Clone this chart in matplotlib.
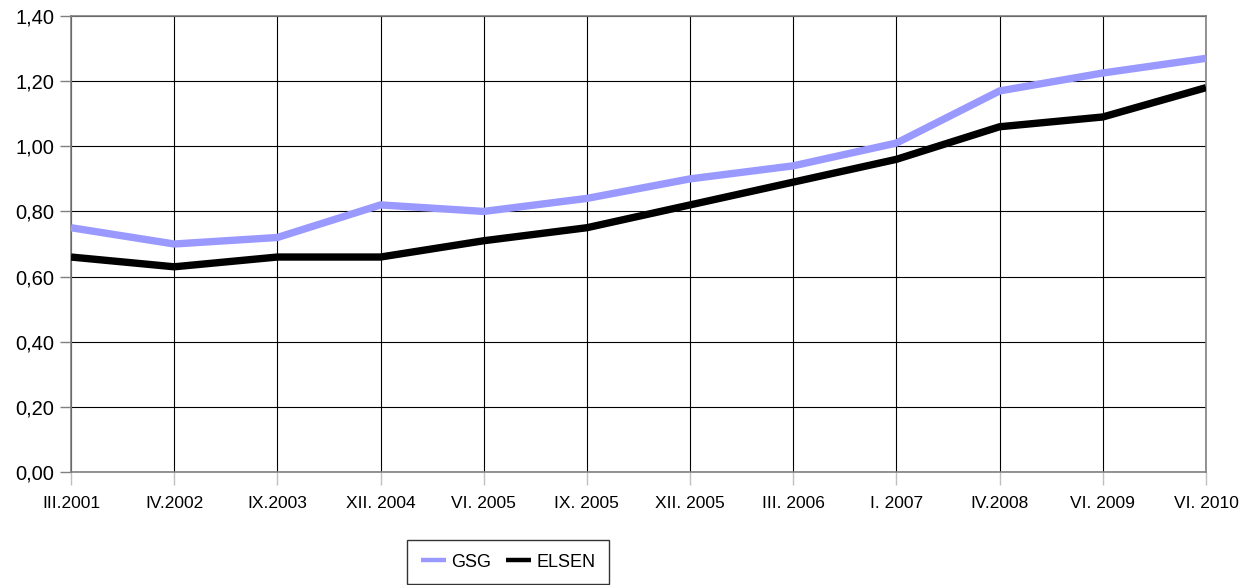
import matplotlib
matplotlib.use("Agg")
import matplotlib.pyplot as plt
from matplotlib.ticker import FuncFormatter

plt.rcParams['font.family'] = ['Liberation Sans', 'DejaVu Sans']

categories = ["III.2001", "IV.2002", "IX.2003", "XII. 2004", "VI. 2005", "IX. 2005",
              "XII. 2005", "III. 2006", "I. 2007", "IV.2008", "VI. 2009", "VI. 2010"]
gsg = [0.75, 0.70, 0.72, 0.82, 0.80, 0.84, 0.90, 0.94, 1.01, 1.17, 1.225, 1.27]
elsen = [0.66, 0.63, 0.66, 0.66, 0.71, 0.75, 0.82, 0.89, 0.96, 1.06, 1.09, 1.18]

fig = plt.figure(figsize=(12.5, 5.85), dpi=100)
ax = fig.add_axes([71/1250, 1 - 472/585, (1206-71)/1250, (472-16)/585])

x = list(range(len(categories)))
ax.plot(x, gsg, color='#9999ff', lw=5.3, label='GSG', solid_joinstyle='miter',
        solid_capstyle='butt', zorder=3)
ax.plot(x, elsen, color='#000000', lw=5.3, label='ELSEN', solid_joinstyle='miter',
        solid_capstyle='butt', zorder=3)

ax.set_xlim(0, len(categories) - 1)
ax.set_ylim(0, 1.4)
ax.set_yticks([0, 0.2, 0.4, 0.6, 0.8, 1.0, 1.2, 1.4])
ax.yaxis.set_major_formatter(FuncFormatter(lambda v, p: f"{v:.2f}".replace('.', ',')))
ax.set_xticks(x)
ax.set_xticklabels(categories)

ax.grid(True, color='black', lw=0.8, zorder=1)
for s in ax.spines.values():
    s.set_color('#808080')
    s.set_linewidth(1.2)
ax.tick_params(axis='y', colors='#808080', labelcolor='black', length=8, width=1, labelsize=14.5, pad=4)
ax.tick_params(axis='x', colors='#c0c0c0', labelcolor='black', length=9, width=1, labelsize=12.5, pad=8)

leg = fig.legend(loc='upper left', bbox_to_anchor=(407/1250, 1 - 540/585), ncol=2,
                 frameon=True, fancybox=False, edgecolor='black', fontsize=13,
                 handlelength=1.4, handletextpad=0.3, columnspacing=0.8,
                 borderpad=0.75, borderaxespad=0)
leg.get_frame().set_linewidth(1.0)
for h in leg.get_lines():
    h.set_linewidth(3.2)
    h.set_solid_capstyle('butt')

fig.savefig('out.png', dpi=100)
